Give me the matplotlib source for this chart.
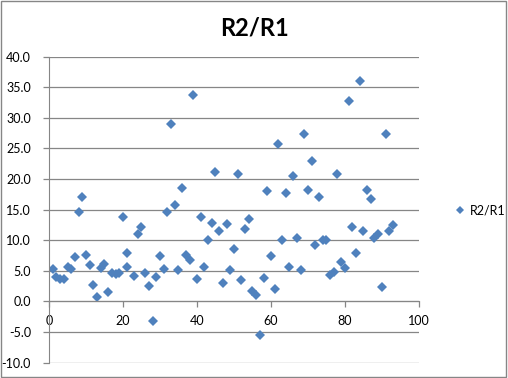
import matplotlib
matplotlib.use("Agg")
import matplotlib.pyplot as plt
from matplotlib.patches import Rectangle

# R2/R1 ratio
x_vals = [1, 2, 3, 4, 5, 6, 7, 8, 9, 10, 11, 12, 13, 14, 15, 16, 17, 18, 19, 20,
          21, 21, 23, 24, 25, 26, 27, 28, 29, 30, 31, 32, 33, 34, 35, 36, 37, 38, 39, 40,
          41, 42, 43, 44, 45, 46, 47, 48, 49, 50, 51, 52, 53, 54, 55, 56, 57, 58, 59, 60,
          61, 62, 63, 64, 65, 66, 67, 68, 69, 70, 71, 72, 73, 74, 75, 76, 77, 78, 79, 80,
          81, 82, 83, 84, 85, 86, 87, 88, 89, 90, 91, 92, 93]
ratio = [5.3, 4.05, 3.6, 3.6, 5.7, 5.35, 7.35, 14.7, 17.1, 7.6,
         5.9, 2.75, 0.8, 5.4, 6.15, 1.55, 4.6, 4.5, 4.6, 13.75,
         8.0, 5.6, 4.2, 11.1, 12.1, 4.6, 2.5, -3.2, 3.95, 7.4,
         5.3, 14.7, 29.0, 15.7, 5.1, 18.5, 7.55, 6.8, 33.7, 3.6,
         13.75, 5.6, 10.0, 12.9, 21.1, 11.6, 3.1, 12.6, 5.1, 8.6,
         20.9, 3.5, 11.8, 13.5, 1.7, 1.1, -5.5, 3.8, 18.0, 7.4,
         2.0, 25.7, 10.0, 17.8, 5.7, 20.45, 10.3, 5.1, 27.3, 18.2,
         22.9, 9.2, 17.0, 10.0, 10.0, 4.3, 4.9, 20.9, 6.4, 5.4,
         32.7, 12.1, 8.0, 36.0, 11.6, 18.2, 16.7, 10.3, 11.1, 2.3,
         27.3, 11.6, 12.5]

y_ticks = [-10, -5, 0, 5, 10, 15, 20, 25, 30, 35, 40]
x_ticks = [0, 20, 40, 60, 80, 100]

grey = "#868686"
blue = "#4F81BD"
plt.rcParams["font.family"] = ["Lato", "DejaVu Sans"]

fig = plt.figure(figsize=(5.08, 3.78), dpi=100)
ax = fig.add_axes([0.0965, 0.0405, 0.728, 0.8095])

ax.plot(x_vals, ratio, linestyle="none", marker="D", markersize=5,
        color=blue, markeredgewidth=0, label="R2/R1")

ax.set_xlim(0, 100)
ax.set_ylim(-10, 40)
ax.set_yticks(y_ticks)
ax.set_yticklabels(["%.1f" % v for v in y_ticks])
ax.set_xticks(x_ticks)
ax.yaxis.grid(True, color=grey, lw=0.9)
ax.set_axisbelow(True)

for s in ["top", "right"]:
    ax.spines[s].set_visible(False)
ax.spines["bottom"].set_position(("data", 0))
ax.spines["bottom"].set_color(grey)
ax.spines["left"].set_color(grey)
ax.tick_params(axis="both", colors=grey, labelcolor="black", labelsize=9,
               length=4, width=0.9, direction="out")
ax.tick_params(axis="y", pad=9)
ax.tick_params(axis="x", pad=6)

fig.text(0.5, 0.927, "R2/R1", ha="center", va="center",
         fontsize=17, fontweight="bold")

fig.legend(loc="center left", bbox_to_anchor=(0.875, 0.444), frameon=False,
           handlelength=0.6, handletextpad=0.5, fontsize=9, markerscale=0.9)

fig.patches.append(Rectangle((0.002, 0.003), 0.995, 0.994, transform=fig.transFigure,
                             fill=False, ec=grey, lw=1))

fig.savefig("out.png", dpi=100)
